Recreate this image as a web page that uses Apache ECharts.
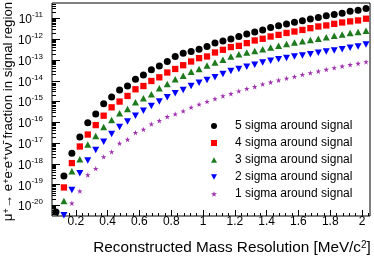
<!DOCTYPE html>
<html><head><meta charset="utf-8">
<script src="https://cdn.jsdelivr.net/npm/echarts@6/dist/echarts.min.js"></script>
<style>html,body{margin:0;padding:0;background:#fff}#c{width:374px;height:256px}</style>
</head><body><div id="c"></div>
<script>
// bin centres (MeV/c^2)
const xBins = [0.075,0.125,0.175,0.225,0.275,0.325,0.375,0.425,0.475,0.525,0.575,0.625,0.675,0.725,0.775,0.825,0.875,0.925,0.975,1.025,1.075,1.125,1.175,1.225,1.275,1.325,1.375,1.425,1.475,1.525,1.575,1.625,1.675,1.725,1.775,1.825,1.875,1.925,1.975,2.025];
const sigma5 = [4.9e-21,2.6e-19,3.3e-18,2.0e-17,9.5e-17,2.5e-16,7.8e-16,1.66e-15,3.6e-15,5.6e-15,1.2e-14,1.9e-14,3.4e-14,5.2e-14,8.5e-14,1.48e-13,2.1e-13,2.6e-13,3.3e-13,4.5e-13,6.5e-13,8.3e-13,1.02e-12,1.35e-12,1.78e-12,2.2e-12,2.8e-12,3.7e-12,4.5e-12,5.4e-12,6.5e-12,7.8e-12,9.3e-12,1.12e-11,1.35e-11,1.55e-11,1.8e-11,2.2e-11,2.45e-11,3.0e-11];
const sigma4 = [null,7.4e-20,1.1e-18,6.9e-18,2.6e-17,7.4e-17,2.1e-16,5.3e-16,1.0e-15,1.87e-15,3.9e-15,5.6e-15,9.8e-15,1.47e-14,2.5e-14,3.7e-14,5.6e-14,8.5e-14,1.23e-13,1.48e-13,2.3e-13,3.1e-13,4.2e-13,4.8e-13,6.5e-13,8.7e-13,1.05e-12,1.35e-12,1.62e-12,2.0e-12,2.35e-12,2.8e-12,3.4e-12,4.1e-12,4.6e-12,5.5e-12,6.4e-12,7.2e-12,8.0e-12,9.7e-12];
const sigma3 = [null,1.66e-20,4.5e-19,1.66e-18,8.5e-18,2.2e-17,6.0e-17,1.3e-16,2.75e-16,4.4e-16,9.3e-16,1.45e-15,2.25e-15,4.4e-15,7.1e-15,1.2e-14,1.74e-14,2.75e-14,3.7e-14,5.4e-14,7.6e-14,1.02e-13,1.48e-13,1.9e-13,2.3e-13,2.75e-13,3.3e-13,4.0e-13,4.8e-13,5.9e-13,6.9e-13,8.1e-13,9.3e-13,1.05e-12,1.26e-12,1.48e-12,1.7e-12,2.0e-12,2.2e-12,2.55e-12];
const sigma2 = [null,3.4e-21,5.5e-20,3.6e-19,1.45e-18,4.7e-18,1.17e-17,2.75e-17,6.0e-17,1.1e-16,2.1e-16,3.6e-16,6.2e-16,1.0e-15,1.62e-15,2.5e-15,3.6e-15,5.6e-15,8.1e-15,1.1e-14,1.48e-14,2.15e-14,2.95e-14,3.7e-14,4.8e-14,5.9e-14,7.6e-14,9.1e-14,1.1e-13,1.26e-13,1.48e-13,1.66e-13,1.9e-13,2.24e-13,2.57e-13,2.9e-13,3.3e-13,3.9e-13,4.5e-13,5.6e-13];
const sigma1 = [null,null,1.29e-20,4.9e-20,2.95e-19,6.0e-19,2.2e-18,3.8e-18,9.8e-18,1.51e-17,3.2e-17,4.6e-17,8.3e-17,1.2e-16,1.86e-16,2.5e-16,3.5e-16,5.3e-16,7.4e-16,1.0e-15,1.35e-15,1.87e-15,2.4e-15,3.2e-15,4.2e-15,5.2e-15,6.9e-15,8.5e-15,1.07e-14,1.32e-14,1.58e-14,2.0e-14,2.4e-14,2.9e-14,3.5e-14,4.2e-14,5.0e-14,5.9e-14,6.8e-14,8.1e-14];
const seriesNames = ['5 sigma around signal','4 sigma around signal','3 sigma around signal','2 sigma around signal','1 sigma around signal'];
// axis ticks
const xMajorTicks = [0.2,0.4,0.6,0.8,1,1.2,1.4,1.6,1.8,2];
const xMinorStep = 0.04;
const yDecades = [1e-20,1e-19,1e-18,1e-17,1e-16,1e-15,1e-14,1e-13,1e-12,1e-11];
const yMinorDecades = [1e-21,1e-20,1e-19,1e-18,1e-17,1e-16,1e-15,1e-14,1e-13,1e-12,1e-11];
const yMinorMult = [2,3,4,5,6,7,8,9];
const xRange = [0.05, 2.05];
const yRange = [3.13e-21, 5.53e-11];

const FONT = 'Liberation Sans';
const xMinorTicks = [];
for (let i = 0; i <= 52; i++) {
  const v = +(i * xMinorStep).toFixed(2);
  if (v >= xRange[0] && v <= xRange[1] && xMajorTicks.indexOf(v) < 0) xMinorTicks.push(v);
}
const yMinorTicks = [];
yMinorDecades.forEach(d => yMinorMult.forEach(m => {
  const v = +(m * d).toPrecision(3);
  if (v >= yRange[0] && v <= yRange[1]) yMinorTicks.push(v);
}));
function pts(arr) { const out = []; arr.forEach((v, i) => { if (v != null) out.push([xBins[i], v]); }); return out; }
const STAR = 'path://M50,0 L61.2,34.5 L97.6,34.5 L68.2,55.9 L79.4,90.5 L50,69.1 L20.6,90.5 L31.8,55.9 L2.4,34.5 L38.8,34.5 Z';
const TRI_DOWN = 'path://M0,0 L10,0 L5,9 Z';
const TRI_UP = 'path://M5,0 L10,9 L0,9 Z';
const styles = [
  {symbol:'circle', size:7, color:'#000000'},
  {symbol:'rect', size:6.3, color:'#ff0000'},
  {symbol:TRI_UP, size:[7,6.5], color:'#1d7a1d'},
  {symbol:TRI_DOWN, size:[7,6.5], color:'#0000ff'},
  {symbol:STAR, size:5.5, color:'#a030b0'}
];
const dataSets = [sigma5, sigma4, sigma3, sigma2, sigma1];

const chart = echarts.init(document.getElementById('c'), null, {renderer:'canvas'});
chart.setOption({
  animation: false,
  backgroundColor: '#ffffff',
  grid: {left: 52, right: 4, top: 3, bottom: 40, containLabel: false, outerBoundsMode: 'none',
         show: true, borderColor: '#000', borderWidth: 1, backgroundColor: 'transparent'},
  legend: {
    orient: 'vertical', left: 211, top: 120, padding: 0, itemWidth: 6, itemHeight: 6, itemGap: 5,
    data: seriesNames,
    textStyle: {fontFamily: FONT, fontSize: 12, color: '#000', lineHeight: 12, padding: [0, 0, 0, 13]}
  },
  xAxis: [{
    type: 'value', min: xRange[0], max: xRange[1],
    name: '{a|Reconstructed Mass Resolution [MeV/c}{s|2}{a|]}',
    nameLocation: 'middle', nameGap: 24, nameMoveOverlap: false,
    nameTextStyle: {padding: [0, 0, 0, 42], rich: {
      a: {fontFamily: FONT, fontSize: 15.3, color: '#000', lineHeight: 15, verticalAlign: 'bottom'},
      s: {fontFamily: FONT, fontSize: 10, color: '#000', lineHeight: 10, verticalAlign: 'top'}
    }},
    axisLine: {show: false},
    splitLine: {show: false},
    axisTick: {inside: true, length: 6, lineStyle: {color: '#000'}, customValues: xMajorTicks},
    axisLabel: {customValues: xMajorTicks, fontFamily: FONT, fontSize: 12, color: '#000', margin: 0}
  }, {
    type: 'value', min: xRange[0], max: xRange[1], position: 'bottom', gridIndex: 0,
    axisLine: {show: false}, splitLine: {show: false}, axisLabel: {show: false},
    axisTick: {inside: true, length: 3, lineStyle: {color: '#000'}, customValues: xMinorTicks}
  }],
  yAxis: [{
    type: 'log', logBase: 10, min: yRange[0], max: yRange[1],
    name: '{a|μ}{s|+}{a|→ e}{s|+}{a|e}{s|-}{a|e}{s|+}{a|νν̄ fraction in signal region}',
    nameLocation: 'middle', nameRotate: 90, nameGap: 37, nameMoveOverlap: false,
    nameTextStyle: {padding: [0, 4, 0, 0], rich: {
      a: {fontFamily: FONT, fontSize: 13.3, color: '#000', lineHeight: 13, verticalAlign: 'bottom'},
      s: {fontFamily: FONT, fontSize: 9, color: '#000', lineHeight: 9, verticalAlign: 'top'}
    }},
    axisLine: {show: false},
    splitLine: {show: false},
    axisTick: {inside: true, length: 8, lineStyle: {color: '#000'}, customValues: yDecades},
    axisLabel: {
      customValues: yDecades, margin: 9,
      formatter: v => '{b|10}{s|' + Math.round(Math.log10(v)) + '}',
      rich: {
        b: {fontFamily: FONT, fontSize: 12, color: '#000', lineHeight: 15, verticalAlign: 'bottom'},
        s: {fontFamily: FONT, fontSize: 8, color: '#000', lineHeight: 9, verticalAlign: 'top'}
      }
    }
  }, {
    type: 'log', logBase: 10, min: yRange[0], max: yRange[1], position: 'left', gridIndex: 0,
    axisLine: {show: false}, splitLine: {show: false}, axisLabel: {show: false},
    axisTick: {inside: true, length: 4, lineStyle: {color: '#000'}, customValues: yMinorTicks}
  }],
  series: dataSets.map((d, i) => ({
    name: seriesNames[i], type: 'scatter', xAxisIndex: 0, yAxisIndex: 0,
    data: pts(d), symbol: styles[i].symbol, symbolSize: styles[i].size,
    clip: false,
    itemStyle: {color: styles[i].color, opacity: 1}
  }))
});
</script></body></html>
